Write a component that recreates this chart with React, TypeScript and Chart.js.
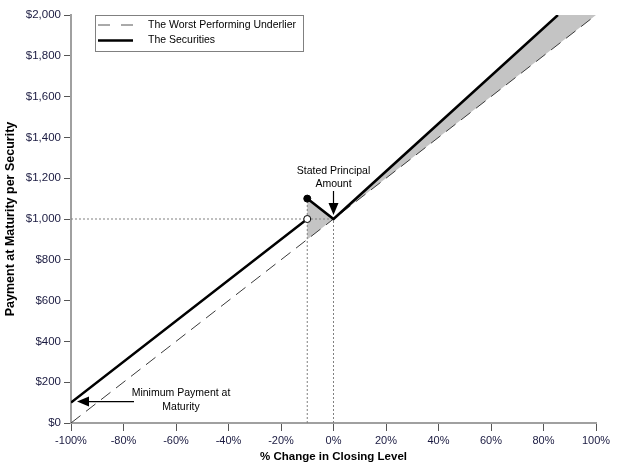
import React, { useEffect, useRef } from "react";
import { Chart, registerables } from "chart.js";

Chart.register(...registerables);

// ---- data ----
const underlierX = [-100, 100];
const underlierY = [0, 2000];

const securitiesX = [-100, -10, -10, -10, 0, 85.5];
const securitiesY: (number | null)[] = [100, 1000, null, 1100, 1000, 2000];

// corners of the grey shaded region (outperformance area)
const shadeX = [-10, 0, 85.5, 100, 0, -10];
const shadeY = [1100, 1000, 2000, 2000, 1000, 900];

const guideH_X = [-100, 0];
const guideH_Y = [1000, 1000];
const guideV1_X = [-10, -10];
const guideV1_Y = [0, 1100];
const guideV2_X = [0, 0];
const guideV2_Y = [0, 1000];

const filledDot = { x: -10, y: 1100 };
const openDot = { x: -10, y: 1000 };

const xMin = -100, xMax = 100, xStep = 20;
const yMin = 0, yMax = 2000, yStep = 200;

const legendLabels = ["The Worst Performing Underlier", "The Securities"];
const xTitle = "% Change in Closing Level";
const yTitle = "Payment at Maturity per Security";
const principalNote = ["Stated Principal", "Amount"];
const minimumNote = ["Minimum Payment at", "Maturity"];

const FONT = "'Liberation Sans', Arial, sans-serif";
const zip = (xs: number[], ys: (number | null)[]) => xs.map((x, i) => ({ x, y: ys[i] }));

const shadePlugin = {
  id: "shade",
  beforeDatasetsDraw(chart: any) {
    const { ctx, chartArea } = chart;
    const x = chart.scales.x;
    const y = chart.scales.y;
    ctx.save();
    ctx.beginPath();
    ctx.rect(chartArea.left, chartArea.top, chartArea.right - chartArea.left, chartArea.bottom - chartArea.top);
    ctx.clip();
    ctx.beginPath();
    shadeX.forEach((v, i) => {
      const px = x.getPixelForValue(v);
      const py = y.getPixelForValue(shadeY[i]);
      if (i === 0) ctx.moveTo(px, py);
      else ctx.lineTo(px, py);
    });
    ctx.closePath();
    ctx.fillStyle = "#c4c4c4";
    ctx.fill("nonzero");
    ctx.restore();
  },
};

const overlay = {
  id: "overlay",
  afterDraw(chart: any) {
    const { ctx } = chart;
    const x = chart.scales.x;
    const y = chart.scales.y;
    ctx.save();
    ctx.fillStyle = "#000";
    ctx.strokeStyle = "#000";
    ctx.font = `10.5px ${FONT}`;
    ctx.textAlign = "center";
    ctx.textBaseline = "middle";

    // Stated Principal Amount arrow
    const tx = x.getPixelForValue(0);
    const ty = y.getPixelForValue(1000) - 4;
    ctx.lineWidth = 1.2;
    ctx.beginPath();
    ctx.moveTo(tx, ty - 24);
    ctx.lineTo(tx, ty - 10);
    ctx.stroke();
    ctx.beginPath();
    ctx.moveTo(tx, ty);
    ctx.lineTo(tx - 5, ty - 12);
    ctx.lineTo(tx + 5, ty - 12);
    ctx.closePath();
    ctx.fill();
    ctx.fillText(principalNote[0], tx, ty - 44);
    ctx.fillText(principalNote[1], tx, ty - 31);

    // Minimum payment arrow
    const mx = x.getPixelForValue(-100) + 6;
    const my = y.getPixelForValue(105);
    ctx.beginPath();
    ctx.moveTo(mx + 10, my);
    ctx.lineTo(mx + 57, my);
    ctx.stroke();
    ctx.beginPath();
    ctx.moveTo(mx, my);
    ctx.lineTo(mx + 12, my - 5);
    ctx.lineTo(mx + 12, my + 5);
    ctx.closePath();
    ctx.fill();
    ctx.fillText(minimumNote[0], mx + 104, my - 8);
    ctx.fillText(minimumNote[1], mx + 104, my + 6);

    // Legend
    const lx = 95, ly = 15, lw = 208, lh = 36;
    ctx.fillStyle = "#fff";
    ctx.fillRect(lx, ly, lw, lh);
    ctx.strokeStyle = "#808080";
    ctx.lineWidth = 1;
    ctx.strokeRect(lx + 0.5, ly + 0.5, lw, lh);
    ctx.strokeStyle = "#555";
    ctx.lineWidth = 1;
    ctx.setLineDash([12, 11]);
    ctx.beginPath();
    ctx.moveTo(lx + 3, ly + 10);
    ctx.lineTo(lx + 38, ly + 10);
    ctx.stroke();
    ctx.setLineDash([]);
    ctx.strokeStyle = "#000";
    ctx.lineWidth = 2.5;
    ctx.beginPath();
    ctx.moveTo(lx + 3, ly + 25.5);
    ctx.lineTo(lx + 38, ly + 25.5);
    ctx.stroke();
    ctx.fillStyle = "#000";
    ctx.textAlign = "left";
    ctx.fillText(legendLabels[0], lx + 53, ly + 10);
    ctx.fillText(legendLabels[1], lx + 53, ly + 25.5);
    ctx.restore();
  },
};

export default function App() {
  const ref = useRef<HTMLCanvasElement>(null);
  useEffect(() => {
    if (!ref.current) return;
    const guideStyle = {
      borderColor: "#808080",
      borderWidth: 1,
      borderDash: [2, 2],
      pointRadius: 0,
      fill: false,
      order: 4,
    };
    const chart = new Chart(ref.current, {
      type: "line",
      data: {
        datasets: [
          {
            label: legendLabels[0],
            data: zip(underlierX, underlierY),
            borderColor: "#3a3a3a",
            borderWidth: 1,
            borderDash: [12, 7],
            pointRadius: 0,
            fill: false,
            order: 2,
          },
          {
            label: legendLabels[1],
            data: zip(securitiesX, securitiesY),
            borderColor: "#000",
            borderWidth: 2.5,
            pointRadius: 0,
            spanGaps: false,
            fill: false,
            order: 1,
          },
          { label: "g1", data: zip(guideH_X, guideH_Y), ...guideStyle },
          { label: "g2", data: zip(guideV1_X, guideV1_Y), ...guideStyle },
          { label: "g3", data: zip(guideV2_X, guideV2_Y), ...guideStyle },
          {
            label: "dot",
            data: [filledDot],
            showLine: false,
            pointRadius: 3.5,
            pointBackgroundColor: "#000",
            pointBorderColor: "#000",
            pointBorderWidth: 1,
            order: 0,
          },
          {
            label: "open",
            data: [openDot],
            showLine: false,
            pointRadius: 3.5,
            pointBackgroundColor: "#fff",
            pointBorderColor: "#000",
            pointBorderWidth: 1,
            order: 0,
          },
        ],
      } as any,
      options: {
        animation: false,
        responsive: false,
        maintainAspectRatio: false,
        layout: { padding: { left: 0, top: 15, right: 27, bottom: 0 } },
        plugins: { legend: { display: false }, tooltip: { enabled: false } },
        scales: {
          x: {
            type: "linear",
            min: xMin,
            max: xMax,
            afterFit: (s: any) => { s.height = 45; },
            ticks: {
              stepSize: xStep,
              color: "#1a1a40",
              font: { family: FONT, size: 11 },
              padding: 3,
              maxRotation: 0,
              callback: (v: any) => `${v}%`,
            },
            grid: { drawOnChartArea: false, drawTicks: true, tickLength: 8, color: "#555", lineWidth: 1 },
            border: { display: true, color: "#a0a0a0", width: 2 },
            title: {
              display: true,
              text: xTitle,
              color: "#000",
              font: { family: FONT, size: 11.5, weight: "bold" },
              padding: { top: 0, bottom: 4 },
            },
          },
          y: {
            type: "linear",
            min: yMin,
            max: yMax,
            afterFit: (s: any) => { s.width = 71; },
            ticks: {
              stepSize: yStep,
              color: "#1a1a40",
              font: { family: FONT, size: 11.5 },
              padding: 3,
              callback: (v: any) => "$" + Number(v).toLocaleString("en-US"),
            },
            grid: { drawOnChartArea: false, drawTicks: true, tickLength: 7, color: "#555", lineWidth: 1 },
            border: { display: true, color: "#a0a0a0", width: 2 },
            title: {
              display: true,
              text: yTitle,
              color: "#000",
              font: { family: FONT, size: 12.5, weight: "bold" },
              padding: { top: 3, bottom: 0 },
            },
          },
        },
      } as any,
      plugins: [shadePlugin, overlay],
    });
    return () => chart.destroy();
  }, []);
  return (
    <div style={{ position: "absolute", left: 0, top: 0, width: 623, height: 468, background: "#fff" }}>
      <canvas ref={ref} width={623} height={468} style={{ width: 623, height: 468 }} />
    </div>
  );
}
